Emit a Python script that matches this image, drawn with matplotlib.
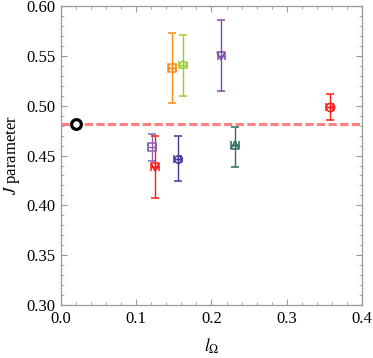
import matplotlib
matplotlib.use("Agg")
import matplotlib.pyplot as plt
from matplotlib.ticker import MultipleLocator, FormatStrFormatter

plt.rcParams['font.family'] = ['Liberation Serif', 'DejaVu Serif']
plt.rcParams['mathtext.fontset'] = 'stix'

# data
l_omega = [0.148, 0.162, 0.213, 0.121, 0.125, 0.155, 0.231, 0.357]
j_param = [0.538, 0.541, 0.550, 0.459, 0.439, 0.447, 0.461, 0.499]
j_err_low = [0.035, 0.031, 0.035, 0.0145, 0.032, 0.023, 0.0225, 0.013]
j_err_high = [0.035, 0.030, 0.036, 0.013, 0.031, 0.023, 0.018, 0.0127]
l_err = [0.005, 0.005, 0.005, 0.005, 0.005, 0.005, 0.005, 0.005]
colors = ['#ff8c1a', '#9acd32', '#7e4ba8', '#8a63b4', '#ff1a1a', '#43389a', '#2f6f5f', '#ff1a1a']
markers = ['s', 'p', 'v', 's', 'v', 'h', '^', 'o']
cross = [True, False, False, False, True, True, True, True]

ref_l = 0.02
ref_j = 0.4815

fig = plt.figure(figsize=(3.73, 3.58), dpi=100)
ax = fig.add_axes([0.1635, 0.148, 0.807, 0.835])

ax.axhline(ref_j, color='#ff8080', lw=2.2, dashes=(2.7, 1.1), zorder=1)

for i in range(len(l_omega)):
    ax.errorbar(l_omega[i], j_param[i],
                yerr=[[j_err_low[i]], [j_err_high[i]]], xerr=l_err[i],
                fmt=markers[i], color=colors[i], mfc='none', mec=colors[i],
                ms=6, mew=1.1, elinewidth=1.0, capsize=3, capthick=1.0, zorder=3)
    if cross[i]:
        ax.plot(l_omega[i], j_param[i], '+', color=colors[i], ms=6, mew=1.0, zorder=4)

ax.plot(ref_l, ref_j, 'o', mfc='white', mec='black', ms=7, mew=2.3, zorder=5)

ax.set_xlim(0.0, 0.4)
ax.set_ylim(0.30, 0.60)
ax.xaxis.set_major_locator(MultipleLocator(0.1))
ax.xaxis.set_minor_locator(MultipleLocator(0.02))
ax.yaxis.set_major_locator(MultipleLocator(0.05))
ax.yaxis.set_minor_locator(MultipleLocator(0.01))
ax.xaxis.set_major_formatter(FormatStrFormatter('%.1f'))
ax.yaxis.set_major_formatter(FormatStrFormatter('%.2f'))

for s in ax.spines.values():
    s.set_color('#999999')
    s.set_linewidth(0.9)
ax.tick_params(which='both', direction='in', top=True, right=True, color='#999999',
               labelsize=12, labelcolor='black')
ax.tick_params(which='major', length=4, width=0.8, pad=4)
ax.tick_params(which='minor', length=2.2, width=0.6)
ax.tick_params(axis='x', which='both', top=True, labeltop=False)
ax.tick_params(axis='y', which='both', right=True, labelright=False)

ax.set_xlabel(r'$l_\Omega$', fontsize=12.5, labelpad=7)
ax.set_ylabel(r'$J$ parameter', fontsize=12, labelpad=3)

fig.savefig('out.png', dpi=100)
